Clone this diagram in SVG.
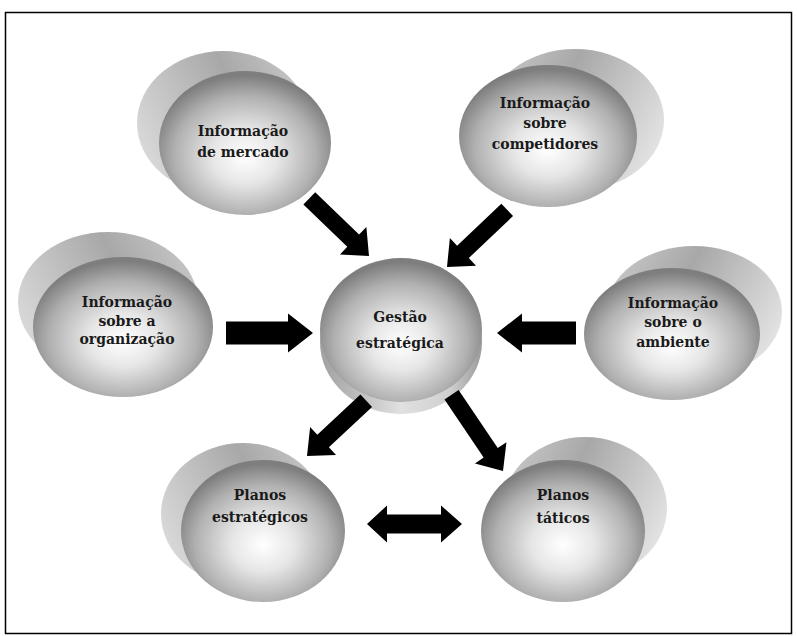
<svg xmlns="http://www.w3.org/2000/svg" width="797" height="636" viewBox="0 0 797 636">
<defs>
<radialGradient id="front" cx="0.5" cy="0.58" r="0.55" fx="0.5" fy="0.6">
<stop offset="0" stop-color="#ffffff"/>
<stop offset="0.35" stop-color="#e6e6e6"/>
<stop offset="0.75" stop-color="#b0b0b0"/>
<stop offset="1" stop-color="#7e7e7e"/>
</radialGradient>
<linearGradient id="backL" x1="0" y1="0.6" x2="1" y2="0.2">
<stop offset="0" stop-color="#d8d8d8"/>
<stop offset="0.6" stop-color="#a8a8a8"/>
<stop offset="1" stop-color="#c8c8c8"/>
</linearGradient>
<linearGradient id="backR" x1="0" y1="0.2" x2="1" y2="0.6">
<stop offset="0" stop-color="#c8c8c8"/>
<stop offset="0.4" stop-color="#a8a8a8"/>
<stop offset="1" stop-color="#e2e2e2"/>
</linearGradient>
<linearGradient id="backD" x1="0" y1="0" x2="1" y2="0">
<stop offset="0" stop-color="#a0a0a0"/>
<stop offset="0.5" stop-color="#e0e0e0"/>
<stop offset="0.8" stop-color="#d0d0d0"/>
<stop offset="1" stop-color="#9a9a9a"/>
</linearGradient>
</defs>
<style>
.front{fill:url(#front);}
.t{font-family:"DejaVu Serif","Liberation Serif",serif;font-weight:bold;font-size:14px;fill:#1a1a1a;text-anchor:middle;}
.arr{fill:#000;}
</style>
<rect x="5.5" y="12.5" width="786" height="621" fill="#fff" stroke="#000" stroke-width="1.5"/>

<g id="mercado">
<ellipse cx="223" cy="123" rx="86" ry="72" fill="url(#backL)"/>
<ellipse class="front" cx="245" cy="143" rx="86" ry="72"/>
<text class="t" x="243" y="136">Informação</text>
<text class="t" x="243" y="157">de mercado</text>
</g>

<g id="competidores">
<ellipse cx="575" cy="120" rx="89" ry="71" fill="url(#backR)"/>
<ellipse class="front" cx="548" cy="136" rx="89" ry="71"/>
<text class="t" x="545" y="108">Informação</text>
<text class="t" x="545" y="128">sobre</text>
<text class="t" x="545" y="149">competidores</text>
</g>

<g id="organizacao">
<ellipse cx="108" cy="302" rx="90" ry="70" fill="url(#backL)"/>
<ellipse class="front" cx="123" cy="327" rx="90" ry="70"/>
<text class="t" x="127" y="307">Informação</text>
<text class="t" x="127" y="326">sobre a</text>
<text class="t" x="127" y="344">organização</text>
</g>

<g id="ambiente">
<ellipse cx="694" cy="312" rx="88" ry="66" fill="url(#backR)"/>
<ellipse class="front" cx="672" cy="334" rx="88" ry="66"/>
<text class="t" x="673" y="308">Informação</text>
<text class="t" x="673" y="327">sobre o</text>
<text class="t" x="673" y="347">ambiente</text>
</g>

<g id="gestao">
<ellipse cx="401" cy="342" rx="81" ry="72" fill="url(#backD)"/>
<ellipse class="front" cx="401" cy="330" rx="81" ry="72"/>
<text class="t" x="400" y="322">Gestão</text>
<text class="t" x="400" y="348">estratégica</text>
</g>

<g id="planos-estrategicos">
<ellipse cx="243" cy="514" rx="82" ry="71" fill="url(#backL)"/>
<ellipse class="front" cx="263" cy="531" rx="82" ry="71"/>
<text class="t" x="260" y="500">Planos</text>
<text class="t" x="260" y="522">estratégicos</text>
</g>

<g id="planos-taticos">
<ellipse cx="585" cy="508" rx="82" ry="71" fill="url(#backR)"/>
<ellipse class="front" cx="563" cy="531" rx="82" ry="71"/>
<text class="t" x="563" y="500">Planos</text>
<text class="t" x="563" y="523">táticos</text>
</g>

<g id="connectors" class="arr">
<polygon points="-83,-8.5 -22,-8.5 -22,-19 0,0 -22,19 -22,8.5 -83,8.5" transform="translate(369,256) rotate(44)"/>
<polygon points="-83,-8.5 -22,-8.5 -22,-19 0,0 -22,19 -22,8.5 -83,8.5" transform="translate(447,267) rotate(136.5)"/>
<polygon points="-87,-11.5 -25,-11.5 -25,-19.5 0,0 -25,19.5 -25,11.5 -87,11.5" transform="translate(313,333)"/>
<polygon points="-79,-11.5 -25,-11.5 -25,-19.5 0,0 -25,19.5 -25,11.5 -79,11.5" transform="translate(497,333) rotate(180)"/>
<polygon points="-81,-8.5 -22,-8.5 -22,-19 0,0 -22,19 -22,8.5 -81,8.5" transform="translate(307,456) rotate(137)"/>
<polygon points="-92,-8.5 -22,-8.5 -22,-19 0,0 -22,19 -22,8.5 -92,8.5" transform="translate(503,471) rotate(56)"/>
<polygon points="367,524 387,505.5 387,514.5 441,514.5 441,505.5 462,524 441,542.5 441,533.5 387,533.5 387,542.5"/>
</g>
</svg>
